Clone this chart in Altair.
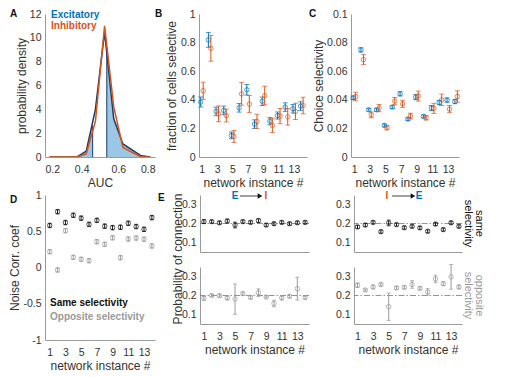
import altair as alt
import pandas as pd

FONT = "Liberation Sans"
BLUE = "#0072BD"
ORANGE = "#D95319"
NAVY = "#1b3a66"
FILL = "#9cc6e6"
GRAY = "#9a9a9a"
BLACK = "#111111"

# ---------------- data ----------------
net = [1, 2, 3, 4, 5, 6, 7, 8, 9, 10, 11, 12, 13, 14]

# Panel A: AUC distributions
auc_x = [0.225, 0.275, 0.325, 0.375, 0.425, 0.475, 0.525, 0.575, 0.625, 0.675, 0.725, 0.775]
exc_density = [0, 0, 0, 0, 0.5, 4.0, 10.5, 3.2, 1.1, 0.6, 0.1, 0]
inh_density = [0, 0, 0, 0, 0.25, 3.0, 11.0, 4.2, 0.8, 0.4, 0.0, 0]
thr_x = [0.46, 0.537]
thr_top = [2.6, 9.2]

# Panel B: fraction of cells selective
b_exc = [0.384, 0.819, 0.319, 0.326, 0.151, 0.344, 0.47, 0.23, 0.39, 0.251, 0.29, 0.349, 0.337, 0.356]
b_exc_err = [0.035, 0.052, 0.03, 0.03, 0.023, 0.03, 0.037, 0.03, 0.03, 0.025, 0.025, 0.03, 0.03, 0.03]
b_inh = [0.463, 0.76, 0.302, 0.29, 0.144, 0.442, 0.37, 0.249, 0.43, 0.221, 0.286, 0.281, 0.319, 0.36]
b_inh_err = [0.06, 0.09, 0.055, 0.045, 0.042, 0.08, 0.06, 0.05, 0.065, 0.05, 0.053, 0.058, 0.057, 0.058]

# Panel C: choice selectivity
c_exc = [0.0414, 0.0749, 0.033, 0.033, 0.0221, 0.0349, 0.0442, 0.0265, 0.0419, 0.0284, 0.0342, 0.0381, 0.0398, 0.0388]
c_exc_err = [0.0012, 0.0015, 0.001, 0.001, 0.001, 0.001, 0.0015, 0.001, 0.0018, 0.001, 0.0018, 0.0015, 0.0015, 0.0015]
c_inh = [0.0423, 0.0681, 0.0295, 0.0342, 0.0205, 0.0391, 0.0372, 0.0286, 0.0426, 0.0274, 0.034, 0.04, 0.0335, 0.0423]
c_inh_err = [0.003, 0.0035, 0.002, 0.0025, 0.0015, 0.0025, 0.0025, 0.002, 0.0035, 0.0015, 0.0035, 0.004, 0.0025, 0.004]

# Panel D: noise correlations
d_same = [0.58, 0.77, 0.62, 0.72, 0.68, 0.595, 0.65, 0.57, 0.55, 0.555, 0.61, 0.565, 0.527, 0.688]
d_same_err = [0.03, 0.03, 0.03, 0.03, 0.03, 0.03, 0.03, 0.03, 0.03, 0.03, 0.03, 0.03, 0.03, 0.03]
d_opp = [0.218, -0.034, 0.508, 0.14, 0.113, 0.094, 0.356, 0.32, 0.41, 0.136, 0.393, 0.407, 0.39, 0.297]
d_opp_err = [0.03, 0.03, 0.03, 0.03, 0.03, 0.03, 0.03, 0.03, 0.03, 0.03, 0.03, 0.03, 0.03, 0.03]

# Panel E: probability of connection
ei_same = [0.21, 0.21, 0.204, 0.213, 0.192, 0.21, 0.206, 0.215, 0.192, 0.199, 0.206, 0.199, 0.204, 0.206]
ei_same_err = [0.01, 0.008, 0.008, 0.01, 0.015, 0.008, 0.008, 0.01, 0.008, 0.008, 0.008, 0.008, 0.008, 0.008]
ei_opp = [0.185, 0.2, 0.199, 0.187, 0.181, 0.21, 0.19, 0.215, 0.192, 0.158, 0.187, 0.196, 0.236, 0.189]
ei_opp_err = [0.01, 0.006, 0.008, 0.01, 0.08, 0.008, 0.008, 0.02, 0.006, 0.017, 0.01, 0.008, 0.06, 0.008]
ie_same = [0.182, 0.192, 0.206, 0.157, 0.203, 0.194, 0.178, 0.185, 0.177, 0.159, 0.197, 0.168, 0.204, 0.185]
ie_same_err = [0.008, 0.008, 0.008, 0.008, 0.015, 0.008, 0.008, 0.008, 0.008, 0.008, 0.008, 0.008, 0.008, 0.008]
ie_opp = [0.254, 0.229, 0.245, 0.258, 0.141, 0.24, 0.243, 0.258, 0.238, 0.219, 0.287, 0.262, 0.298, 0.245]
ie_opp_err = [0.012, 0.006, 0.01, 0.008, 0.072, 0.008, 0.008, 0.02, 0.008, 0.017, 0.02, 0.01, 0.065, 0.01]
chance = [0.2]

odd_ticks = [1, 3, 5, 7, 9, 11, 13]


# ---------------- helpers ----------------
def frame(vals, errs):
    return pd.DataFrame({"n": net, "v": vals,
                         "lo": [v - e for v, e in zip(vals, errs)],
                         "hi": [v + e for v, e in zip(vals, errs)]})


def sc(dom):
    return alt.Scale(domain=dom, nice=False, zero=False)


def xnet_axis(labels=True, title="network instance #"):
    if labels:
        return alt.Axis(values=odd_ticks, title=title, labelPadding=7, titlePadding=3)
    return alt.Axis(values=odd_ticks, labels=False, title=None)


def series(df, xdom, ydom, xaxis, yaxis, color, xoff=0, cap=5, size=20):
    base = alt.Chart(df)
    X = alt.X("n:Q", scale=sc(xdom), axis=xaxis)

    def Y(f):
        return alt.Y(f, type="quantitative", scale=sc(ydom), axis=yaxis)

    rule = base.mark_rule(color=color, strokeWidth=1, xOffset=xoff).encode(x=X, y=Y("lo"), y2="hi:Q")
    lo = base.mark_tick(color=color, orient="horizontal", size=cap, thickness=1, xOffset=xoff).encode(x=X, y=Y("lo"))
    hi = base.mark_tick(color=color, orient="horizontal", size=cap, thickness=1, xOffset=xoff).encode(x=X, y=Y("hi"))
    pt = base.mark_point(shape="circle", filled=False, color=color, size=size, strokeWidth=1,
                         xOffset=xoff).encode(x=X, y=Y("v"))
    return [rule, lo, hi, pt]


def note(text, x, y, color=BLACK, size=10, weight="bold", angle=0, align="left",
         baseline="alphabetic", lineHeight=None):
    kw = dict(color=color, fontSize=size, fontWeight=weight, angle=angle, align=align,
              baseline=baseline, font=FONT)
    if lineHeight is not None:
        kw["lineBreak"] = "\n"
        kw["lineHeight"] = lineHeight
    return alt.Chart(pd.DataFrame({"t": [text]})).mark_text(**kw).encode(
        x=alt.value(x), y=alt.value(y), text="t:N")


def arrow(x1, x2, y):
    line = alt.Chart(pd.DataFrame({"a": [0]})).mark_rule(color=BLACK, strokeWidth=0.8).encode(
        x=alt.value(x1), x2=alt.value(x2), y=alt.value(y))
    head = alt.Chart(pd.DataFrame({"a": [0]})).mark_point(shape="triangle-right", filled=True,
                                                          color=BLACK, size=28, opacity=1).encode(
        x=alt.value(x2), y=alt.value(y))
    return [line, head]


# ---------------- Panel A ----------------
wA, hA = 110, 143
dfA = pd.DataFrame({"x": auc_x, "exc": exc_density, "inh": inh_density})
axAx = alt.Axis(values=[0.2, 0.4, 0.6, 0.8], title="AUC", format="~g", zindex=1,
                labelPadding=7, titlePadding=3)
axAy = alt.Axis(values=[0, 2, 4, 6, 8, 10, 12], title="probability density", zindex=1,
                titlePadding=1)
XA = alt.X("x:Q", scale=sc([0.2, 0.8]), axis=axAx)


def YA(f):
    return alt.Y(f, type="quantitative", scale=sc([0, 12]), axis=axAy)


areaA = alt.Chart(dfA).mark_area(color=FILL, opacity=1).encode(x=XA, y=YA("exc"))
gapA = alt.Chart(pd.DataFrame({"x": [thr_x[0]], "x2": [thr_x[1]], "y": [0], "y2": [12]})).mark_rect(
    color="white").encode(x=XA, x2="x2:Q", y=YA("y"), y2="y2:Q")
thrA = alt.Chart(pd.DataFrame({"x": thr_x, "y": [0, 0], "y2": thr_top})).mark_rule(
    color=NAVY, strokeWidth=1).encode(x=XA, y=YA("y"), y2="y2:Q")
lineE = alt.Chart(dfA).mark_line(color=NAVY, strokeWidth=1.5).encode(x=XA, y=YA("exc"))
lineI = alt.Chart(dfA).mark_line(color=ORANGE, strokeWidth=1.5).encode(x=XA, y=YA("inh"))
panelA = alt.layer(
    areaA, gapA, thrA, lineE, lineI,
    note("Excitatory", 6, 4, color=BLUE),
    note("Inhibitory", 6, 15, color=ORANGE),
    note("A", -35, 3),
).properties(width=wA, height=hA)

# ---------------- Panel B ----------------
wB = 108
axBy = alt.Axis(values=[0, 0.2, 0.4, 0.6, 0.8, 1], title="fraction of cells selective",
                format="~g", titlePadding=2)
xdomB = [0.65, 14.7]
panelB = alt.layer(
    *series(frame(b_exc, b_exc_err), xdomB, [0, 1], xnet_axis(), axBy, BLUE, xoff=-1),
    *series(frame(b_inh, b_inh_err), xdomB, [0, 1], xnet_axis(), axBy, ORANGE, xoff=1.5),
    note("B", -44, 3),
).properties(width=wB, height=hA)

# ---------------- Panel C ----------------
wC = 108
axCy = alt.Axis(values=[0, 0.02, 0.04, 0.06, 0.08, 0.1], title="Choice selectivity",
                format="~g", titlePadding=1)
xdomC = [0.6, 14.4]
panelC = alt.layer(
    *series(frame(c_exc, c_exc_err), xdomC, [0, 0.1], xnet_axis(), axCy, BLUE, xoff=-1),
    *series(frame(c_inh, c_inh_err), xdomC, [0, 0.1], xnet_axis(), axCy, ORANGE, xoff=1.5),
    note("C", -42, 3),
).properties(width=wC, height=hA)

# ---------------- Panel D ----------------
wD, hD = 110, 145
axDy = alt.Axis(values=[-1, -0.5, 0, 0.5, 1], title="Noise Corr. coef", format="~g",
                labelExpr="replace(datum.label, '\u2212', '-')", titlePadding=1)
xdomD = [0.4, 14.4]
panelD = alt.layer(
    *series(frame(d_same, d_same_err), xdomD, [-1, 1], xnet_axis(), axDy, BLACK, cap=4),
    *series(frame(d_opp, d_opp_err), xdomD, [-1, 1], xnet_axis(), axDy, GRAY, cap=4),
    note("Same selectivity", 5, 111, color=BLACK),
    note("Opposite selectivity", 5, 125, color=GRAY),
    note("D", -35, 8),
).properties(width=wD, height=hD)

# ---------------- Panel E ----------------
wE1, wE2, hE = 109, 108, 57
ydomE = [0.05, 0.35]
axEy = alt.Axis(values=[0.1, 0.2, 0.3], title=None, format="~g")


def refline(xdom):
    return alt.Chart(pd.DataFrame({"y": chance})).mark_rule(
        color="#777777", strokeWidth=0.8, strokeDash=[6, 2, 1.5, 2]).encode(
        y=alt.Y("y:Q", scale=sc(ydomE), axis=axEy))


xdomE1 = [0.5, 14.5]
xdomE2 = [0.55, 14.4]

e1_top = alt.layer(
    refline(xdomE1),
    *series(frame(ei_same, ei_same_err), xdomE1, ydomE, xnet_axis(False), axEy, BLACK, cap=4),
    note("E", 35, 1, color=BLUE, align="center", baseline="middle"),
    *arrow(40, 60, 1),
    note("I", 66, 1, color=ORANGE, align="center", baseline="middle"),
    note("Probability of connection", -22, 64, color="#333333", size=12, weight="normal",
         angle=270, align="center", baseline="middle"),
    note("E", -42, 6),
).properties(width=wE1, height=hE)

e1_bot = alt.layer(
    refline(xdomE1),
    *series(frame(ei_opp, ei_opp_err), xdomE1, ydomE, xnet_axis(), axEy, GRAY, cap=4),
).properties(width=wE1, height=hE)

e2_top = alt.layer(
    refline(xdomE2),
    *series(frame(ie_same, ie_same_err), xdomE2, ydomE, xnet_axis(False), axEy, BLACK, cap=4),
    note("I", 33, 1, color=ORANGE, align="center", baseline="middle"),
    *arrow(38, 59, 1),
    note("E", 65, 1, color=BLUE, align="center", baseline="middle"),
    note("same\nselectivity", wE2 + 17, 28.5, color=BLACK, size=11, weight="normal",
         angle=90, align="center", baseline="middle", lineHeight=11.5),
).properties(width=wE2, height=hE)

e2_bot = alt.layer(
    refline(xdomE2),
    *series(frame(ie_opp, ie_opp_err), xdomE2, ydomE, xnet_axis(), axEy, GRAY, cap=4),
    note("opposite\nselectivity", wE2 + 17, 28.5, color=GRAY, size=11, weight="normal",
         angle=90, align="center", baseline="middle", lineHeight=11.5),
).properties(width=wE2, height=hE)

colE1 = alt.vconcat(e1_top, e1_bot, spacing=15, bounds="flush")
colE2 = alt.vconcat(e2_top, e2_bot, spacing=15, bounds="flush")

top = alt.hconcat(panelA, panelB, panelC, spacing=44, bounds="flush")
bottom = alt.hconcat(panelD, colE1, colE2, spacing=1)
bottom2 = alt.hconcat(panelD, colE1, spacing=1)
bottom = alt.hconcat(bottom2, colE2, spacing=25)

chart = alt.vconcat(top, bottom, spacing=1).properties(
    padding={"left": 0, "top": 1, "right": 5, "bottom": 5}
).configure_view(stroke=None).configure_axis(
    grid=False, ticks=False, domainColor="#9a9a9a", domainWidth=1,
    labelColor="#333333", labelFont=FONT, labelFontSize=10.5, labelPadding=4,
    titleColor="#333333", titleFont=FONT, titleFontSize=12, titleFontWeight="normal",
).configure_text(font=FONT)

chart.save("out.html", embed_options={"renderer": "svg", "actions": False})
